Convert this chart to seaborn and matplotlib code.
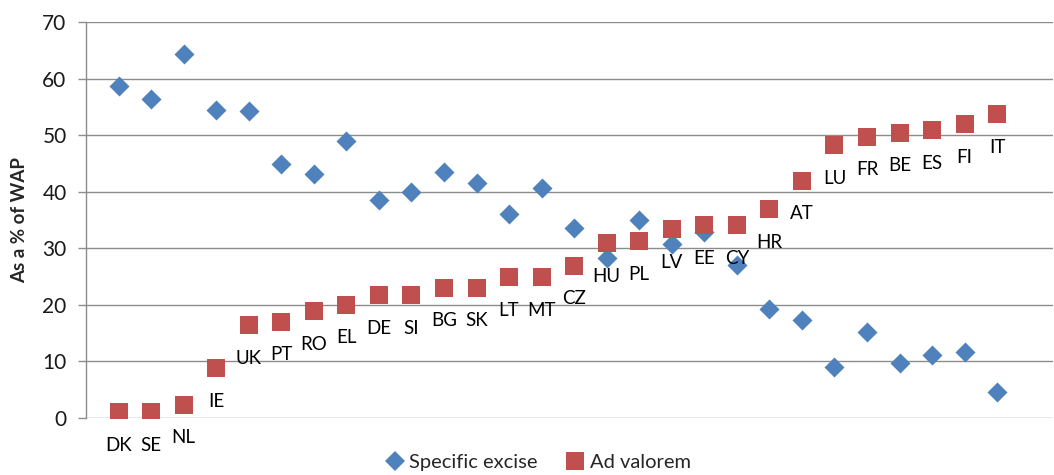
import matplotlib
matplotlib.use("Agg")
import matplotlib.pyplot as plt
import seaborn as sns
import pandas as pd
from matplotlib.lines import Line2D

countries = ["DK", "SE", "NL", "IE", "UK", "PT", "RO", "EL", "DE", "SI", "BG", "SK", "LT", "MT",
             "CZ", "HU", "PL", "LV", "EE", "CY", "HR", "AT", "LU", "FR", "BE", "ES", "FI", "IT"]
specific_excise = [58.6, 56.4, 64.3, 54.4, 54.2, 44.9, 43.1, 48.9, 38.5, 39.9, 43.5, 41.5, 36.1, 40.7,
                   33.6, 28.3, 35.0, 30.8, 32.9, 27.0, 19.3, 17.3, 9.0, 15.2, 9.8, 11.2, 11.6, 4.6]
ad_valorem = [1.0, 1.0, 2.3, 8.8, 16.4, 17.0, 18.9, 20.0, 21.7, 21.7, 23.0, 23.0, 24.9, 24.9,
              26.9, 30.9, 31.2, 33.4, 34.1, 34.1, 36.9, 41.9, 48.2, 49.7, 50.4, 50.9, 51.9, 53.7]
series_names = ["Specific excise", "Ad valorem"]
yticks = [0, 10, 20, 30, 40, 50, 60, 70]

BLUE = "#4F81BD"
RED = "#C0504D"

sns.set_style("white")
plt.rcParams["font.family"] = ["Lato", "DejaVu Sans"]

df = pd.DataFrame({"country": countries, "spec": specific_excise, "adv": ad_valorem})

fig = plt.figure(figsize=(10.54, 4.75), dpi=100)
ax = fig.add_axes([0.0816, 0.12, 0.917, 0.8337])

sns.scatterplot(data=df, x="country", y="spec", marker="D", s=104, color=BLUE,
                linewidth=0, ax=ax, zorder=3)
sns.scatterplot(data=df, x="country", y="adv", marker="s", s=185, color=RED,
                linewidth=0, ax=ax, zorder=4)

for i, (c, v) in enumerate(zip(countries, ad_valorem)):
    ax.annotate(c, (i, v), xytext=(0, -33), textcoords="offset pixels",
                ha="center", va="center", fontsize=13.5, color="#000000", zorder=5)

ax.set_ylim(0, 70)
ax.set_xlim(-1, 28.7)
ax.set_yticks(yticks)
ax.set_yticklabels([str(t) for t in yticks], fontsize=15, color="#1a1a1a")
ax.set_xticks([])
ax.set_xlabel("")
ax.set_ylabel("As a % of WAP", fontsize=13.5, fontweight="bold", labelpad=10)

ax.grid(axis="y", color="#8C8C8C", linewidth=1.0)
ax.set_axisbelow(True)
for s in ["top", "right", "bottom"]:
    ax.spines[s].set_visible(False)
ax.spines["left"].set_color("#8C8C8C")
ax.spines["left"].set_linewidth(1.0)
ax.tick_params(axis="y", length=6, color="#8C8C8C", width=1.0, pad=8, left=True)

handles = [
    Line2D([], [], marker="D", linestyle="none", markersize=10, color=BLUE, markeredgewidth=0),
    Line2D([], [], marker="s", linestyle="none", markersize=13.5, color=RED, markeredgewidth=0),
]
fig.legend(handles, series_names, loc="center", bbox_to_anchor=(0.51, 0.026), ncol=2,
           frameon=False, fontsize=14.5, handletextpad=0.2, columnspacing=1.4, handlelength=1.0,
           borderpad=0.1)

fig.savefig("out.png", dpi=100)
